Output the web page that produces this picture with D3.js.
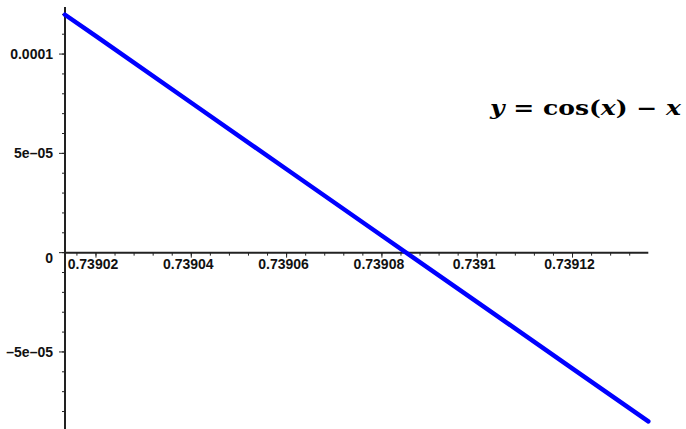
<!DOCTYPE html>
<html>
<head>
<meta charset="utf-8">
<script src="https://cdn.jsdelivr.net/npm/d3@7"></script>
<style>
  html, body { margin: 0; padding: 0; background: #fff; }
  svg { display: block; }
  .tick-label { font-family: "Liberation Sans", Arial, sans-serif; font-weight: bold; font-size: 14px; fill: #111; }
</style>
</head>
<body>
<svg></svg>
<script>
const width = 686, height = 429;

const xValues = [0.7390135, 0.73902, 0.73904, 0.73906, 0.73908, 0.7391, 0.73912, 0.7391359];
const yValues = [1.198e-4, 1.09e-4, 7.55e-5, 4.2e-5, 8.5e-6, -2.49e-5, -5.84e-5, -8.5e-5];

// tick labels
const xTicks = [0.73902, 0.73904, 0.73906, 0.73908, 0.7391, 0.73912];
const xTickLabels = ["0.73902", "0.73904", "0.73906", "0.73908", "0.7391", "0.73912"];
const yTicks = [0.0001, 5e-5, 0, -5e-5];
const yTickLabels = ["0.0001", "5e\u201305", "0", "\u20135e\u201305"];

const svg = d3.select("svg").attr("width", width).attr("height", height);

const x = d3.scaleLinear().domain([0.7390135, 0.7391359]).range([65, 648.3]);
const y = d3.scaleLinear().domain([-8.88e-5, 1.237e-4]).range([429, 7]);

// minor ticks
const xMinor = d3.range(-2, 30).map(i => 0.73902 + i * 0.000004).filter(v => x(v) >= 66 && x(v) <= 648);
const yMinor = d3.range(-8, 13).map(i => i * 1e-5);

const axisColor = "#222";

// y axis
svg.append("line")
    .attr("x1", x.range()[0]).attr("x2", x.range()[0])
    .attr("y1", 7).attr("y2", height)
    .attr("stroke", axisColor).attr("stroke-width", 2);

svg.selectAll(".ymin").data(yMinor).enter().append("line")
    .attr("x1", 62).attr("x2", 65)
    .attr("y1", d => y(d)).attr("y2", d => y(d))
    .attr("stroke", axisColor).attr("stroke-width", 1);

svg.selectAll(".ymaj").data(yTicks).enter().append("line")
    .attr("x1", 59).attr("x2", 65)
    .attr("y1", d => y(d)).attr("y2", d => y(d))
    .attr("stroke", axisColor).attr("stroke-width", 1);

svg.selectAll(".ylab").data(yTicks).enter().append("text")
    .attr("class", "tick-label")
    .attr("x", 53)
    .attr("y", d => y(d) + (d === 0 ? 10.5 : 5))
    .attr("text-anchor", "end")
    .text((d, i) => yTickLabels[i]);

// x axis
svg.append("line")
    .attr("x1", 65).attr("x2", x.range()[1])
    .attr("y1", y(0)).attr("y2", y(0))
    .attr("stroke", axisColor).attr("stroke-width", 2);

svg.selectAll(".xmin").data(xMinor).enter().append("line")
    .attr("x1", d => x(d)).attr("x2", d => x(d))
    .attr("y1", y(0)).attr("y2", y(0) + 3)
    .attr("stroke", axisColor).attr("stroke-width", 1);

svg.selectAll(".xmaj").data(xTicks).enter().append("line")
    .attr("x1", d => x(d)).attr("x2", d => x(d))
    .attr("y1", y(0)).attr("y2", y(0) + 5)
    .attr("stroke", axisColor).attr("stroke-width", 1);

svg.selectAll(".xlab").data(xTicks).enter().append("text")
    .attr("class", "tick-label")
    .attr("x", d => x(d) - 3)
    .attr("y", y(0) + 16)
    .attr("text-anchor", "middle")
    .text((d, i) => xTickLabels[i]);

// the curve
const line = d3.line().x((d, i) => x(xValues[i])).y((d, i) => y(yValues[i]));
svg.append("path")
    .datum(yValues)
    .attr("d", line)
    .attr("fill", "none")
    .attr("stroke", "#0000ff")
    .attr("stroke-width", 4.5)
    .attr("stroke-linecap", "round");

// formula label
const f = svg.append("text")
    .attr("x", 490).attr("y", 115)
    .attr("font-family", "'DejaVu Serif', 'Liberation Serif', serif")
    .attr("font-weight", "bold")
    .attr("font-size", 20)
    .attr("fill", "#000")
    .attr("textLength", 191)
    .attr("lengthAdjust", "spacingAndGlyphs");
f.append("tspan").attr("font-style", "italic").text("y");
f.append("tspan").text(" = cos(");
f.append("tspan").attr("font-style", "italic").text("x");
f.append("tspan").text(") \u2212 ");
f.append("tspan").attr("font-style", "italic").text("x");
</script>
</body>
</html>
